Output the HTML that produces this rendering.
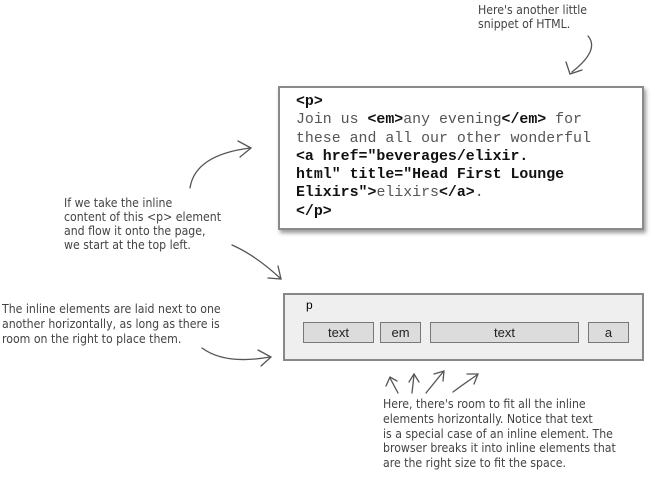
<!DOCTYPE html>
<html><head><style>
body{margin:0;width:655px;height:490px;background:#fff;position:relative;overflow:hidden;font-family:"Liberation Sans",sans-serif}
.note{position:absolute;font-size:12.2px;line-height:14px;color:#444;font-family:"DejaVu Sans Condensed","Liberation Sans Narrow","Liberation Sans",sans-serif;white-space:nowrap}
#code{position:absolute;left:278px;top:86px;width:362px;height:140px;border:2px solid #8a8a8a;box-shadow:2px 3px 4px #999;background:#fff}
#code pre{margin:0;position:absolute;left:16px;top:5px;font-family:"Liberation Mono",monospace;font-size:14.9px;line-height:18.3px;color:#555}
#code b{color:#111}
#flow{position:absolute;left:283px;top:293px;width:357px;height:64px;border:2px solid #888;background:#efefef}
.ib{position:absolute;top:27px;height:19px;border:1px solid #777;background:#dcdcdc;font-size:13px;line-height:19px;text-align:center;color:#222}
</style></head><body>
<div class="note" style="left:478px;top:3px;">Here's another little<br>snippet of HTML.</div>
<div class="note" style="left:64px;top:196px;">If we take the inline<br>content of this &lt;p&gt; element<br>and flow it onto the page,<br>we start at the top left.</div>
<div class="note" style="left:2px;top:302px;line-height:15px;">The inline elements are laid next to one<br>another horizontally, as long as there is<br>room on the right to place them.</div>
<div class="note" style="left:383px;top:397px;line-height:14.8px;">Here, there's room to fit all the inline<br>elements horizontally. Notice that text<br>is a special case of an inline element. The<br>browser breaks it into inline elements that<br>are the right size to fit the space.</div>
<div id="code"><pre><b>&lt;p&gt;</b>
Join us <b>&lt;em&gt;</b>any evening<b>&lt;/em&gt;</b> for
these and all our other wonderful
<b>&lt;a href="beverages/elixir.
html" title="Head First Lounge
Elixirs"&gt;</b>elixirs<b>&lt;/a&gt;</b>.
<b>&lt;/p&gt;</b></pre></div>
<div id="flow">
<div style="position:absolute;left:21px;top:3px;font-size:12px;">p</div>
<div class="ib" style="left:18px;width:69px">text</div>
<div class="ib" style="left:95px;width:39px">em</div>
<div class="ib" style="left:145px;width:147px">text</div>
<div class="ib" style="left:303px;width:39px">a</div>
</div>
<svg width="655" height="490" style="position:absolute;left:0;top:0" fill="none" stroke="#555" stroke-width="1.3" stroke-linecap="round">
<path d="M588 36 Q600 50 572 72"/><path d="M566 62 L570 74 L582 70"/>
<path d="M190 188 Q195 155 250 148"/><path d="M238 141 L251 148 L240 157"/>
<path d="M232 245 Q255 255 280 278"/><path d="M268 278 L281 279 L278 266"/>
<path d="M202 348 Q225 365 270 357"/><path d="M258 350 L271 357 L261 366"/>
<path d="M398 393 L390 378"/><path d="M386 386 L390 377 L397 381"/>
<path d="M412 393 L414 375"/><path d="M409 382 L414 374 L419 382"/>
<path d="M426 393 L443 372"/><path d="M434 374 L444 371 L443 381"/>
<path d="M453 392 Q465 383 477 375"/><path d="M467 374 L478 374 L474 384"/>
</svg>
</body></html>
